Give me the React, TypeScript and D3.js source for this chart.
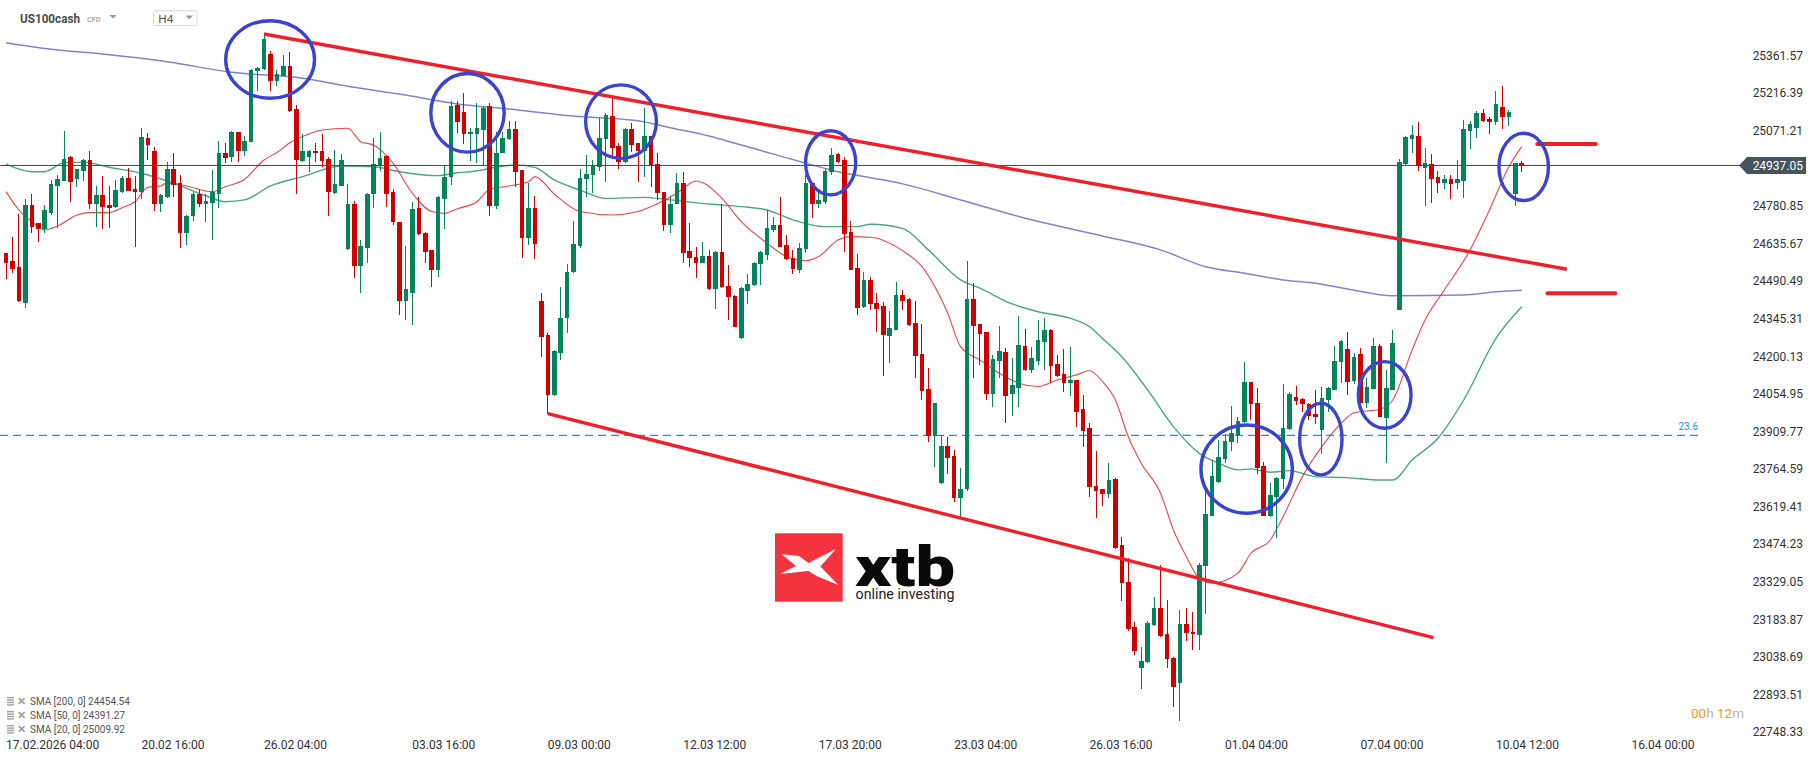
import React, { useEffect } from "react";
import * as d3 from "d3";

const W = 1816;
const H = 761;

// ---- OHLC (H4 bars, US100cash) ----
const opens = [24597,24569,24543,24404,24784,24713,24690,24754,24859,24878,24971,24883,24917,24960,24790,24823,24784,24778,24835,24887,24846,24835,25045,24993,24787,24814,24923,24868,24675,24743,24826,24790,24794,24825,24987,24971,25065,24994,25029,25303,25308,25367,25264,25284,25322,25155,24955,24971,24993,24993,24962,24832,24859,24614,24788,24550,24619,24825,24938,24973,24833,24717,24414,24445,24771,24677,24610,24535,24807,24893,25170,25144,25057,25058,25076,25166,24781,24986,25038,25078,24919,24655,24771,24413,24282,24050,24214,24346,24524,24627,24883,24902,24930,25039,25129,25012,24951,25078,25022,24994,25050,24941,24833,24709,24790,24868,24606,24582,24562,24587,24458,24604,24471,24434,24269,24453,24475,24556,24591,24687,24707,24629,24578,24535,24614,24868,24790,24797,24910,24981,24958,24681,24542,24389,24494,24404,24394,24280,24302,24437,24421,24327,24209,24074,23892,23709,23853,23815,23651,23687,24421,24323,24292,24054,24183,24215,24054,24079,24240,24145,24183,24257,24302,24170,24132,24095,24108,23996,23922,23699,23687,23667,23726,23471,23329,23153,22997,23017,23162,23226,23127,23036,22939,23166,23136,23123,23391,23584,23716,23803,23870,23896,23945,24099,24018,23776,23584,23658,23726,23919,24041,24034,24016,23976,23915,24031,24070,24179,24228,24105,24209,24021,24074,24240,23963,24070,24379,24943,25039,25051,24926,24942,24891,24871,24884,24868,24878,25072,25083,25139,25115,25104,25162,25123,24827,24945];
const highs = [24600,24659,24749,24806,24826,24715,24784,24881,24900,25070,24973,24925,24962,24993,24857,24896,24857,24881,24896,24926,24897,25080,25061,25007,24825,24951,24987,24899,24745,24833,24842,24826,24919,25031,25022,25070,25067,25050,25308,25316,25445,25380,25305,25363,25375,25170,25058,24996,25025,25057,24971,24996,24980,24865,24799,24649,24829,25044,25067,24977,24848,24720,24626,24797,24814,24680,24612,24818,24938,25186,25186,25218,25080,25179,25166,25179,25067,25067,25110,25110,24921,24870,24820,24443,24290,24225,24469,24555,24722,24922,24977,24958,25121,25138,25196,25022,25080,25102,25025,25160,25052,24984,24835,24819,24909,24910,24716,24623,24642,24610,24608,24787,24552,24436,24469,24517,24564,24608,24765,24739,24816,24668,24610,24638,24902,24870,24835,24926,25005,24987,24968,24722,24595,24524,24507,24443,24411,24375,24486,24456,24424,24414,24325,24156,24020,23896,23887,23838,23767,24568,24482,24325,24294,24205,24317,24231,24192,24356,24304,24237,24340,24349,24306,24205,24227,24235,24110,24050,23941,23834,23689,23789,23728,23503,23419,23172,23078,23177,23269,23394,23259,23038,23220,23226,23213,23400,23703,23799,23877,23899,24008,23967,24177,24101,24076,23793,23709,23735,24092,24063,24085,24038,24018,24070,24083,24083,24240,24261,24295,24211,24231,24115,24269,24246,24147,24302,24962,25051,25094,25106,25003,24980,24916,24900,24900,24958,25113,25110,25149,25154,25126,25225,25244,25151,24947,24954];
const lows = [24497,24520,24411,24385,24675,24642,24677,24744,24694,24876,24797,24855,24878,24767,24700,24690,24694,24771,24829,24837,24623,24806,24960,24762,24758,24812,24814,24620,24629,24723,24778,24717,24651,24774,24945,24951,24951,24974,25027,25226,25306,25226,25245,25282,25145,24825,24951,24913,24951,24930,24743,24826,24857,24612,24504,24443,24561,24771,24917,24778,24707,24359,24340,24319,24670,24559,24468,24507,24691,24861,25063,25020,24955,24945,24935,24743,24767,24984,25036,24852,24580,24629,24574,24198,23977,24045,24185,24288,24522,24617,24814,24829,24917,24874,24964,24922,24947,24990,24874,24891,24855,24803,24684,24678,24788,24559,24543,24501,24560,24456,24381,24464,24340,24312,24267,24400,24473,24475,24571,24681,24621,24572,24516,24523,24600,24735,24774,24790,24902,24947,24604,24533,24359,24385,24378,24295,24124,24175,24300,24379,24317,24117,24031,23870,23771,23707,23744,23635,23580,23681,24115,24166,24031,24003,24117,23944,23971,24003,24143,24134,24166,24147,24098,24119,24063,24048,23926,23851,23658,23577,23623,23651,23456,23256,23140,23046,22913,23015,23159,23117,22995,22846,22789,23101,23065,23065,23203,23582,23712,23786,23834,23866,23943,23954,23744,23582,23580,23497,23687,23917,24012,23986,23954,23938,23823,23986,24068,24098,24050,24092,24019,24002,24072,23965,23789,24068,24377,24939,24987,24917,24782,24794,24832,24846,24806,24846,24813,24999,25045,25106,25057,25094,25077,25091,24782,24913];
const closes = [24561,24538,24414,24784,24700,24690,24765,24865,24884,24964,24874,24923,24960,24790,24823,24778,24774,24842,24890,24839,24835,25048,25018,24787,24823,24923,24861,24675,24743,24826,24790,24799,24833,24987,24967,25067,24994,25032,25305,25313,25425,25264,25290,25322,25147,24960,24993,24993,24984,24955,24835,24865,24958,24788,24550,24626,24826,24942,24967,24826,24717,24414,24459,24768,24672,24604,24535,24816,24893,25166,25106,25058,25065,25080,25161,24781,24984,25044,25078,24913,24655,24771,24632,24273,24050,24220,24346,24524,24632,24887,24906,24935,25045,25134,25005,24951,25078,25018,24994,25050,24935,24829,24709,24790,24868,24597,24578,24562,24587,24458,24604,24466,24430,24314,24465,24481,24562,24604,24694,24707,24623,24574,24539,24620,24868,24790,24803,24915,24977,24951,24672,24535,24385,24494,24402,24382,24282,24308,24437,24415,24321,24202,24067,23890,24018,23853,23808,23654,23687,24421,24318,24286,24054,24189,24220,24048,24089,24244,24145,24192,24263,24302,24164,24125,24095,24108,23986,23913,23693,23681,23667,23722,23461,23323,23146,23063,23023,23168,23226,23121,23029,22924,23166,23130,23126,23394,23590,23738,23810,23873,23905,23950,24099,24014,23770,23584,23664,23731,23922,24054,24029,24016,23971,23964,24038,24076,24182,24259,24102,24196,24021,24080,24240,23967,24079,24250,24949,25046,25055,24935,24945,24884,24871,24884,24864,24884,25078,25097,25139,25110,25106,25175,25123,25142,24945,24937.05];

// ---- moving averages (read at sample bars) ----
const sma200Idx = [0,7,15,25,35,46,54,61,70,78,88,98,103,109,114,119,124,129,134,139,148,159,170,179,186,192,198,203,208,215,226,231,235];
const sma200Val = [25411,25386,25368,25338,25297,25274,25239,25213,25175,25155,25128,25110,25083,25051,25016,24981,24946,24913,24890,24866,24804,24727,24665,24611,24546,24521,24495,24482,24460,24434,24437,24449,24455];
const sma50Idx = [0,4,6,9,12,16,21,26,31,34,37,41,46,52,57,61,67,70,72,79,82,85,89,93,99,103,109,114,118,122,127,132,134,139,143,148,151,156,160,165,168,170,173,177,181,185,188,191,193,196,199,203,208,213,215,218,222,226,231,235];
const sma50Val = [24942,24913,24913,24948,24950,24930,24907,24868,24820,24797,24804,24858,24894,24935,24932,24913,24898,24909,24913,24939,24930,24881,24842,24810,24814,24804,24788,24778,24765,24727,24701,24701,24710,24694,24611,24495,24463,24402,24372,24347,24314,24269,24198,24070,23928,23825,23787,23761,23765,23752,23758,23735,23731,23722,23722,23799,23883,24031,24269,24391];
const sma20Idx = [0,2,4,6,8,11,13,16,18,20,22,24,25,28,32,34,37,40,42,44,47,49,53,55,57,60,63,66,68,70,73,75,78,81,82,85,89,94,98,100,104,107,108,111,114,118,121,124,126,129,131,134,139,142,146,148,151,154,157,160,163,166,168,170,172,174,176,179,181,183,185,187,191,193,196,198,201,204,207,209,213,215,218,220,223,227,230,233,235];
const sma20Val = [24836,24765,24720,24688,24703,24746,24755,24755,24774,24797,24853,24858,24871,24858,24836,24855,24884,24958,24987,25025,25059,25074,25081,25029,25016,24946,24830,24759,24752,24770,24797,24845,24858,24874,24894,24827,24759,24746,24759,24778,24830,24877,24871,24810,24720,24637,24585,24569,24585,24649,24662,24660,24608,24546,24366,24237,24186,24134,24096,24083,24108,24128,24144,24102,24031,23889,23787,23671,23529,23426,23342,23323,23362,23439,23490,23580,23735,23851,23941,23982,23995,24031,24224,24340,24456,24611,24765,24932,25010];

// ---- axes ----
const yTickValues = [25361.57,25216.39,25071.21,24780.85,24635.67,24490.49,24345.31,24200.13,24054.95,23909.77,23764.59,23619.41,23474.23,23329.05,23183.87,23038.69,22893.51,22748.33];
const xTickIdx = [0,21,40,63,84,105,126,147,168,189,210,231,252];
const xTickLabels = ["17.02.2026 04:00","20.02 16:00","26.02 04:00","03.03 16:00","09.03 00:00","12.03 12:00","17.03 20:00","23.03 04:00","26.03 16:00","01.04 04:00","07.04 00:00","10.04 12:00","16.04 00:00"];
const lastPrice = 24937.05;
const fibPrice = 23894;
const fibLabel = "23.6";

// ---- drawings ----
const upperTrend = [[40, 25445], [242, 24536]];
const lowerTrend = [[84, 23978], [221.3, 23113]];
const levelFrom = [237.4, 239];
const levelTo = [246.5, 249.5];
const levelPrice = [25020, 24443];
const ringStart = [33.8, 65.6, 89.6, 123.7, 185.0, 200.3, 209.4, 231.2];
const ringEnd = [48.1, 77.5, 101.1, 132.0, 199.7, 207.4, 218.1, 239.4];
const ringTop = [25503, 25299, 25255, 25078, 23941, 24025, 24186, 25068];
const ringBottom = [25190, 24982, 24958, 24817, 23587, 23735, 23915, 24795];

const legendLabels = ["SMA [200, 0] 24454.54", "SMA [50, 0] 24391.27", "SMA [20, 0] 25009.92"];

const UP = "#04845a";
const DOWN = "#d10000";
const FONT = "Roboto, 'Noto Sans', sans-serif";

export default function App() {
  useEffect(() => {
    document.body.style.margin = "0";
    document.body.style.overflow = "hidden";
  }, []);

  const x = d3.scaleLinear().domain([0, 235]).range([6, 1521.75]);
  const y = d3.scaleLinear().domain([22748.33, 25361.57]).range([732, 55.6]);
  const bodyW = 4.6;

  const line = d3
    .line<[number, number]>()
    .x((d) => x(d[0]))
    .y((d) => y(d[1]))
    .curve(d3.curveMonotoneX);

  const sma200 = line(sma200Idx.map((v, k) => [v, sma200Val[k]] as [number, number])) || "";
  const sma50 = line(sma50Idx.map((v, k) => [v, sma50Val[k]] as [number, number])) || "";
  const sma20 = line(sma20Idx.map((v, k) => [v, sma20Val[k]] as [number, number])) || "";

  const yLast = y(lastPrice);

  return (
    <div style={{ position: "absolute", left: 0, top: 0, width: W, height: H, overflow: "hidden", background: "#fff" }}>
      <svg width={W} height={H} style={{ display: "block", fontFamily: FONT }}>
        <rect x={0} y={0} width={W} height={H} fill="#ffffff" />

        {/* header */}
        <text x={20} y={23.3} fontSize={13} fontWeight={700} fill="#4a4a4a" textLength={60} lengthAdjust="spacingAndGlyphs">US100cash</text>
        <text x={87} y={21.6} fontSize={7.2} fontWeight={700} fill="#a8a8a8">CFD</text>
        <path d="M109.3,15 L116.7,15 L113,18.6 Z" fill="#9a9a9a" />
        <rect x={153.5} y={10.8} width={43.5} height={14.6} rx={2} fill="#fff" stroke="#d8d8d8" />
        <text x={158.3} y={23} fontSize={11.8} fill="#555">H4</text>
        <path d="M185.3,15.6 L193.3,15.6 L189.3,19.2 Z" fill="#9a9a9a" />

        {/* watermark logo */}
        <g>
          <rect x={775} y={533.3} width={67.7} height={68.4} fill="#f5333f" />
          <path
            d="M781.7,554.3 L799,556 L808.5,563 L835.8,549 L820.5,566.5 L838.3,585 L816.5,576 L808.5,571 L780,574 L796,566 Z"
            fill="#ffffff"
          />
          <text x={855} y={585.5} fontSize={55} fontWeight={900} fill="#0a0a0a" textLength={100} lengthAdjust="spacingAndGlyphs">xtb</text>
          <text x={855.5} y={598.5} fontSize={14} fontWeight={400} fill="#222" textLength={99} lengthAdjust="spacingAndGlyphs">online investing</text>
        </g>

        {/* fib 23.6 level */}
        <line x1={0} x2={1698} y1={y(fibPrice)} y2={y(fibPrice)} stroke="#1a8cff" strokeWidth={1.2} strokeDasharray="8,5" />
        <text x={1698} y={y(fibPrice) - 5} fontSize={10} fill="#1a8cff" textAnchor="end">{fibLabel}</text>

        {/* moving averages */}
        <path d={sma200} fill="none" stroke="#6a6fc6" strokeOpacity={0.85} strokeWidth={1.5} />
        <path d={sma50} fill="none" stroke="#1f9064" strokeOpacity={0.8} strokeWidth={1.4} />
        <path d={sma20} fill="none" stroke="#e3262b" strokeOpacity={0.85} strokeWidth={1.1} />

        {/* candles */}
        <g shapeRendering="crispEdges">
          {opens.map((o, i) => {
            const c = closes[i];
            const hi = Math.max(highs[i], o, c);
            const lo = Math.min(lows[i], o, c);
            const col = c >= o ? UP : DOWN;
            const cx = x(i);
            const top = y(Math.max(o, c));
            const bot = y(Math.min(o, c));
            return (
              <g key={i}>
                <rect x={cx - 0.5} y={y(hi)} width={1} height={Math.max(1, y(lo) - y(hi))} fill={col} />
                <rect x={cx - bodyW / 2} y={top} width={bodyW} height={Math.max(1.2, bot - top)} fill={col} />
              </g>
            );
          })}
        </g>

        {/* last price line */}
        <line x1={0} x2={1740} y1={yLast} y2={yLast} stroke="#3f4a52" strokeWidth={1} />

        {/* trend channel */}
        <line x1={x(upperTrend[0][0])} y1={y(upperTrend[0][1])} x2={x(upperTrend[1][0])} y2={y(upperTrend[1][1])} stroke="#f0202b" strokeWidth={3.4} />
        <line x1={x(lowerTrend[0][0])} y1={y(lowerTrend[0][1])} x2={x(lowerTrend[1][0])} y2={y(lowerTrend[1][1])} stroke="#f0202b" strokeWidth={3.4} />
        {levelPrice.map((p, k) => (
          <line key={k} x1={x(levelFrom[k])} x2={x(levelTo[k])} y1={y(p)} y2={y(p)} stroke="#f0202b" strokeWidth={4} strokeLinecap="round" />
        ))}

        {/* rings */}
        {ringStart.map((s, k) => {
          const x0 = x(s), x1 = x(ringEnd[k]);
          const y0 = y(ringTop[k]), y1 = y(ringBottom[k]);
          return (
            <ellipse key={k} cx={(x0 + x1) / 2} cy={(y0 + y1) / 2} rx={(x1 - x0) / 2 - 1.7} ry={(y1 - y0) / 2 - 1.7} fill="none" stroke="#3b44cc" strokeWidth={3.4} />
          );
        })}

        {/* y axis labels */}
        {yTickValues.map((v) => (
          <text key={v} x={1803} y={y(v) + 4.3} fontSize={12} fill="#333" textAnchor="end">{v.toFixed(2)}</text>
        ))}
        <path d={`M1739,${yLast} L1747,${yLast - 8.5} L1806,${yLast - 8.5} L1806,${yLast + 8.5} L1747,${yLast + 8.5} Z`} fill="#46545e" />
        <text x={1803} y={yLast + 4.3} fontSize={12} fill="#fff" textAnchor="end">{lastPrice.toFixed(2)}</text>

        {/* countdown */}
        <text x={1744} y={y(22823) + 5} fontSize={13.5} textAnchor="end">
          <tspan fill="#f39c12">00</tspan>
          <tspan fill="#b5b5b5">h </tspan>
          <tspan fill="#f39c12">12</tspan>
          <tspan fill="#b5b5b5">m</tspan>
        </text>

        {/* x axis labels */}
        {xTickIdx.map((t, k) => (
          <text key={k} x={x(t)} y={749} fontSize={12} fill="#333">{xTickLabels[k]}</text>
        ))}

        {/* legend */}
        {legendLabels.map((s, k) => {
          const cy = 701 + k * 14;
          return (
            <g key={k}>
              <rect x={7} y={cy - 4} width={7} height={1.4} fill="#a0a0a0" />
              <rect x={7} y={cy - 1.6} width={7} height={1.4} fill="#a0a0a0" />
              <rect x={7} y={cy + 0.8} width={7} height={1.4} fill="#a0a0a0" />
              <rect x={7} y={cy + 3.2} width={7} height={1.4} fill="#a0a0a0" />
              <text x={16.5} y={cy + 4} fontSize={10.5} fill="#a0a0a0" fontWeight={700}>✕</text>
              <text x={30} y={cy + 4} fontSize={11} fill="#555" textLength={s.length * 4.75} lengthAdjust="spacingAndGlyphs">{s}</text>
            </g>
          );
        })}
      </svg>
    </div>
  );
}
